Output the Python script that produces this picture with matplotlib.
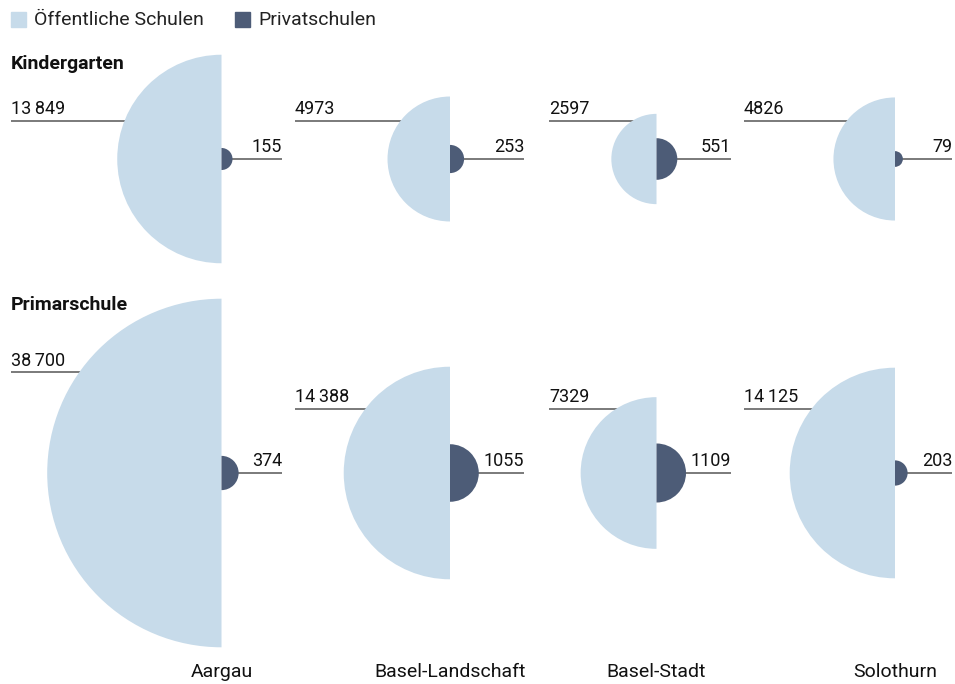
import numpy as np
import matplotlib.pyplot as plt
from matplotlib.patches import Wedge, Rectangle

plt.rcParams['font.family'] = ['Roboto', 'DejaVu Sans']

# Data
cantons = ['Aargau', 'Basel-Landschaft', 'Basel-Stadt', 'Solothurn']
levels = ['Kindergarten', 'Primarschule']
kg_public = [13849, 4973, 2597, 4826]
kg_private = [155, 253, 551, 79]
prim_public = [38700, 14388, 7329, 14125]
prim_private = [374, 1055, 1109, 203]

public = [kg_public, prim_public]
private = [kg_private, prim_private]

# Layout (pixel coordinates)
col_x = [221.5, 450, 656.5, 895]
left_start = [11, 295, 549, 744]
right_end = [282, 524, 731, 952]
row_y = [159, 473]
head_y = [64, 305]
label_off = [[38.5, 38.5, 38.5, 38.5], [101, 64, 64, 64]]
k = 0.886  # px per sqrt(value), area proportional

c_pub = '#c7dbea'
c_priv = '#4d5c77'
c_line = '#707070'


def fmt(v):
    if v >= 10000:
        return f'{v:,}'.replace(',', '\u2009')
    return str(v)


fig = plt.figure(figsize=(9.55, 6.84), dpi=100)
ax = fig.add_axes([0, 0, 1, 1])
ax.set_xlim(0, 955)
ax.set_ylim(684, 0)
ax.axis('off')

# Legend
ax.add_patch(Rectangle((11, 12), 15, 15, color=c_pub))
ax.text(34, 20, 'Öffentliche Schulen', fontsize=14, va='center', color='#222222')
ax.add_patch(Rectangle((235, 12), 15, 15, color=c_priv))
ax.text(258, 20, 'Privatschulen', fontsize=14, va='center', color='#222222')

for r, level in enumerate(levels):
    cy = row_y[r]
    ax.text(11, head_y[r], level, fontsize=14, fontweight='bold', va='center', color='#111111')
    for c, name in enumerate(cantons):
        cx = col_x[c]
        pub = public[r][c]
        priv = private[r][c]
        r_pub = k * np.sqrt(pub)
        r_priv = k * np.sqrt(priv)

        ly = cy - label_off[r][c]
        x_edge = cx - np.sqrt(max(r_pub**2 - label_off[r][c]**2, 0)) + 2
        ax.plot([left_start[c], x_edge], [ly, ly], color=c_line, lw=1.3, zorder=1,
                solid_capstyle='butt')
        ax.text(left_start[c], ly - 2.5, fmt(pub), fontsize=13, ha='left', va='bottom',
                color='#111111')

        ax.plot([cx + 2, right_end[c]], [cy, cy], color=c_line, lw=1.3, zorder=1,
                solid_capstyle='butt')
        ax.text(right_end[c], cy - 2.5, fmt(priv), fontsize=13, ha='right', va='bottom',
                color='#111111')

        ax.add_patch(Wedge((cx, cy), r_pub, 90, 270, facecolor=c_pub, edgecolor='none', zorder=2))
        ax.add_patch(Wedge((cx, cy), r_priv, -90, 90, facecolor=c_priv, edgecolor='none', zorder=2))

for c, name in enumerate(cantons):
    ax.text(col_x[c], 672, name, fontsize=14, ha='center', va='center', color='#111111')

fig.savefig('out.png', dpi=100)
